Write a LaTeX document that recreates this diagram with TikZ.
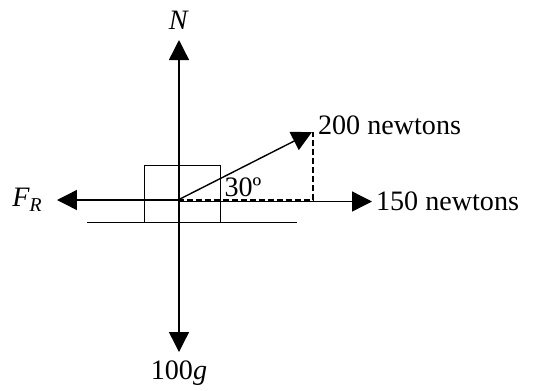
\documentclass[tikz,border=0pt]{standalone}
\usepackage{fontspec}
\setmainfont{Liberation Serif}
\usepackage{tikz}
\usetikzlibrary{positioning,arrows.meta}

\begin{document}
\begin{tikzpicture}[
    x=0.02cm, y=-0.02cm,
    font=\fontsize{16}{19}\selectfont,
    force/.style={-{Triangle[length=0.4cm, width=0.4cm]}, line width=0.8pt},
    forcetwo/.style={{Triangle[length=0.4cm, width=0.4cm]}-{Triangle[length=0.4cm, width=0.4cm]}, line width=0.8pt},
    blockbox/.style={rectangle, draw, line width=0.8pt, minimum width=1.52cm,
                     minimum height=1.14cm, inner sep=0pt},
    helper/.style={dashed, dash pattern=on 0.12cm off 0.06cm, line width=0.8pt},
    forcelabel/.style={inner sep=1pt}
]
\useasboundingbox (0,0) rectangle (539,390);

% block on the ground
\node[blockbox] (block) at (182.3,194.2) {};
\draw[line width=0.8pt] (87,222.7) -- (297,222.7);

% points
\coordinate (centre) at (178,200);
\coordinate (ntip) at (179,40);
\coordinate (gtip) at (179,352);
\coordinate (frtip) at (57,200);
\coordinate (pulltip) at (372,201.5);
\coordinate (slanttip) at (312,132);
\coordinate (corner) at (313,200);

% forces
\draw[forcetwo] (ntip) -- (gtip);
\draw[force] (centre) -- (frtip);
\draw[force] (178,201.5) -- (pulltip);
\draw[force] (centre) -- (slanttip);
\draw[helper] (centre) -- (corner) -- (313,132);

% labels
\node[forcelabel, above=5pt of ntip] (nlabel) {\textit{N}};
\node[forcelabel, below=4pt of gtip] (glabel) {100\textit{g}};
\node[forcelabel, left=7pt of frtip] (frlabel) {\textit{F}\textsubscript{\textit{R}}};
\node[forcelabel, anchor=west] (pulllabel) at (374,201) {150 newtons};
\node[forcelabel, anchor=west] (slantlabel) at (316,125) {200 newtons};
\node[forcelabel] (anglelabel) at (243,187) {30º};

\end{tikzpicture}
\end{document}
